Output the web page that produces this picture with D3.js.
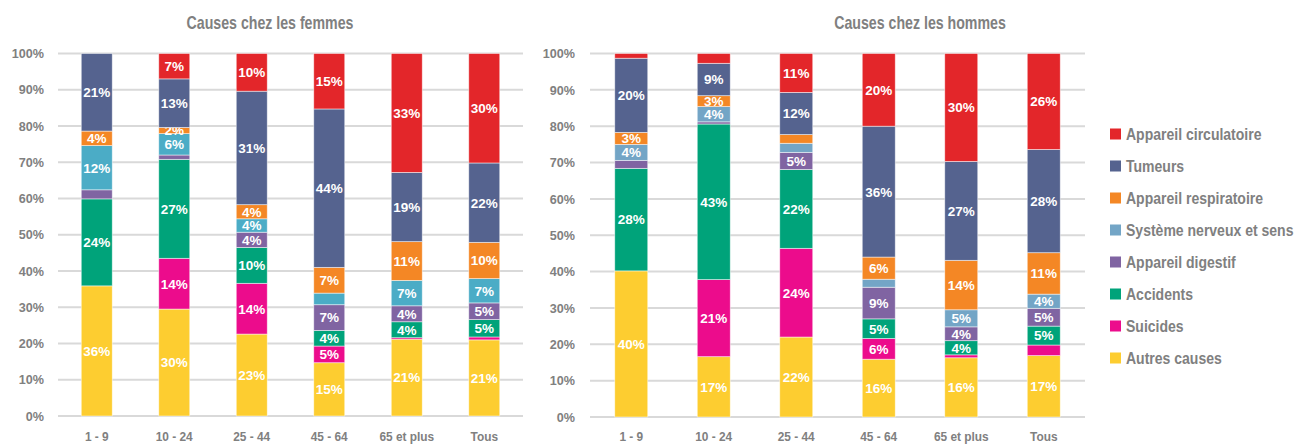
<!DOCTYPE html>
<html>
<head>
<meta charset="utf-8">
<script src="https://cdn.jsdelivr.net/npm/d3@7"></script>
<style>
body { margin: 0; background: #fff; }
text { font-family: "Liberation Sans", Arial, sans-serif; font-weight: bold; }
</style>
</head>
<body>
<svg id="chart" width="1296" height="444"></svg>
<script>
// categories & series (percent, bottom to top)
var ageGroups = ["1 - 9", "10 - 24", "25 - 44", "45 - 64", "65 et plus", "Tous"];
var causes = ["Autres causes", "Suicides", "Accidents", "Appareil digestif", "Système nerveux et sens", "Appareil respiratoire", "Tumeurs", "Appareil circulatoire"];
var yTicks = [0, 10, 20, 30, 40, 50, 60, 70, 80, 90, 100];

var femmesAutres = [35.9, 29.5, 22.6, 14.7, 21.2, 21.0];
var femmesSuicides = [0, 14.0, 14.0, 4.6, 0.4, 0.8];
var femmesAccidents = [24.0, 27.3, 9.9, 4.3, 4.4, 4.8];
var femmesDigestif = [2.5, 1.2, 4.2, 7.1, 4.4, 4.6];
var femmesNerveux = [12.2, 5.9, 3.7, 3.2, 7.0, 6.7];
var femmesRespiratoire = [4.0, 1.7, 3.9, 7.1, 10.7, 10.0];
var femmesTumeurs = [21.4, 13.4, 31.3, 43.7, 19.1, 21.9];
var femmesCirculatoire = [0, 7.0, 10.4, 15.3, 32.8, 30.2];

var hommesAutres = [40.2, 16.6, 22.0, 15.9, 16.3, 16.9];
var hommesSuicides = [0, 21.2, 24.4, 5.7, 0.8, 2.9];
var hommesAccidents = [28.2, 42.8, 21.7, 5.4, 3.9, 5.2];
var hommesDigestif = [2.2, 0.6, 4.7, 8.7, 3.8, 4.9];
var hommesNerveux = [4.4, 4.2, 2.5, 2.2, 4.7, 3.9];
var hommesRespiratoire = [3.3, 3.0, 2.4, 6.1, 13.6, 11.4];
var hommesTumeurs = [20.4, 8.9, 11.6, 36.0, 27.2, 28.4];
var hommesCirculatoire = [1.3, 2.7, 10.7, 20.0, 29.7, 26.4];

var colors = ["#FDCD30", "#EC0C8C", "#00A37A", "#8064A2", "#73A5C6", "#F48725", "#55638F", "#E3262A"];
var grey = "#808080";

function rows(series) {
	return ageGroups.map(function (g, i) {
		var r = { group: g };
		causes.forEach(function (c, k) { r[c] = series[k][i]; });
		return r;
	});
}

// condensed look: squeeze text horizontally around its anchor
function squeeze(sel, fx, fy, sx) {
	sel.attr("x", 0).attr("y", 0).attr("transform", function (d, i) {
		return "translate(" + fx(d, i) + "," + fy(d, i) + ") scale(" + sx + ",1)";
	});
}

var svg = d3.select("#chart");

function drawChart(opt) {
	var g = svg.append("g");
	var x = d3.scaleBand().domain(ageGroups).range([opt.x0, opt.x1]).paddingInner(0.6).paddingOuter(0.3);
	var y = d3.scaleLinear().domain([0, 100]).range([opt.yBottom, 53.5]);

	g.append("text").attr("text-anchor", "middle")
		.attr("font-size", "17.5px").attr("fill", grey).text(opt.title)
		.call(squeeze, function () { return opt.titleX; }, function () { return 29; }, 0.81);

	g.append("g").selectAll("line").data(yTicks).join("line")
		.attr("x1", opt.x0).attr("x2", opt.x1)
		.attr("y1", function (d) { return y(d); }).attr("y2", function (d) { return y(d); })
		.attr("stroke", "#D9D9D9").attr("stroke-width", 2);

	g.append("g").selectAll("text").data(yTicks).join("text")
		.attr("dy", "0.36em")
		.attr("text-anchor", "end").attr("font-size", "13px").attr("fill", grey)
		.text(function (d) { return d + "%"; })
		.call(squeeze, function () { return opt.labelX; }, function (d) { return y(d); }, 0.97);

	var stacked = d3.stack().keys(causes)(rows(opt.series));
	var layer = g.append("g").selectAll("g").data(stacked).join("g")
		.attr("fill", function (d, k) { return (opt.colorOverride && opt.colorOverride[k]) || colors[k]; });
	layer.selectAll("rect").data(function (d) { return d; }).join("rect")
		.attr("x", function (d) { return x(d.data.group); })
		.attr("width", x.bandwidth())
		.attr("y", function (d) { return y(d[1]); })
		.attr("height", function (d) { return y(d[0]) - y(d[1]); })
		.attr("stroke", "rgba(255,255,255,0.6)").attr("stroke-width", 0.8);

	layer.each(function (s, k) {
		d3.select(this).selectAll("text").data(s.filter(function (d, i) {
			var v = d[1] - d[0];
			var key = k + ":" + i;
			if (opt.hide.indexOf(key) >= 0) return false;
			return v >= 2.95 || opt.force.indexOf(key) >= 0;
		})).join("text")
			.attr("dy", "0.36em").attr("text-anchor", "middle")
			.attr("font-size", "13.5px").attr("fill", "#fff")
			.text(function (d) { return Math.round(d[1] - d[0]) + "%"; })
			.call(squeeze, function (d) { return x(d.data.group) + x.bandwidth() / 2; },
				function (d) { return (y(d[0]) + y(d[1])) / 2; }, 1);
	});

	g.append("g").selectAll("text").data(ageGroups).join("text")
		.attr("text-anchor", "middle")
		.attr("font-size", "13.5px").attr("fill", grey)
		.text(function (d) { return d; })
		.call(squeeze, function (d) { return x(d) + x.bandwidth() / 2; }, function () { return 441; }, 0.88);
}

drawChart({
	title: "Causes chez les femmes", titleX: 270,
	x0: 58, x1: 523, yBottom: 416, labelX: 44,
	series: [femmesAutres, femmesSuicides, femmesAccidents, femmesDigestif, femmesNerveux, femmesRespiratoire, femmesTumeurs, femmesCirculatoire],
	colorOverride: { 4: "#4BACC6" },
	force: ["5:1"], hide: ["4:3"]
});
drawChart({
	title: "Causes chez les hommes", titleX: 920,
	x0: 590, x1: 1085, yBottom: 417, labelX: 575,
	series: [hommesAutres, hommesSuicides, hommesAccidents, hommesDigestif, hommesNerveux, hommesRespiratoire, hommesTumeurs, hommesCirculatoire],
	force: [], hide: []
});

// legend, top to bottom
var legend = svg.append("g").selectAll("g").data(causes.slice().reverse()).join("g")
	.attr("transform", function (d, i) { return "translate(1110," + (134 + i * 32) + ")"; });
legend.append("rect").attr("x", 0).attr("y", -5.5).attr("width", 11).attr("height", 11)
	.attr("fill", function (d) { return colors[causes.indexOf(d)]; });
legend.append("text").attr("dy", "0.36em").attr("font-size", "16.5px").attr("fill", grey)
	.text(function (d) { return d; })
	.call(squeeze, function () { return 16; }, function () { return 0; }, 0.85);
</script>
</body>
</html>
